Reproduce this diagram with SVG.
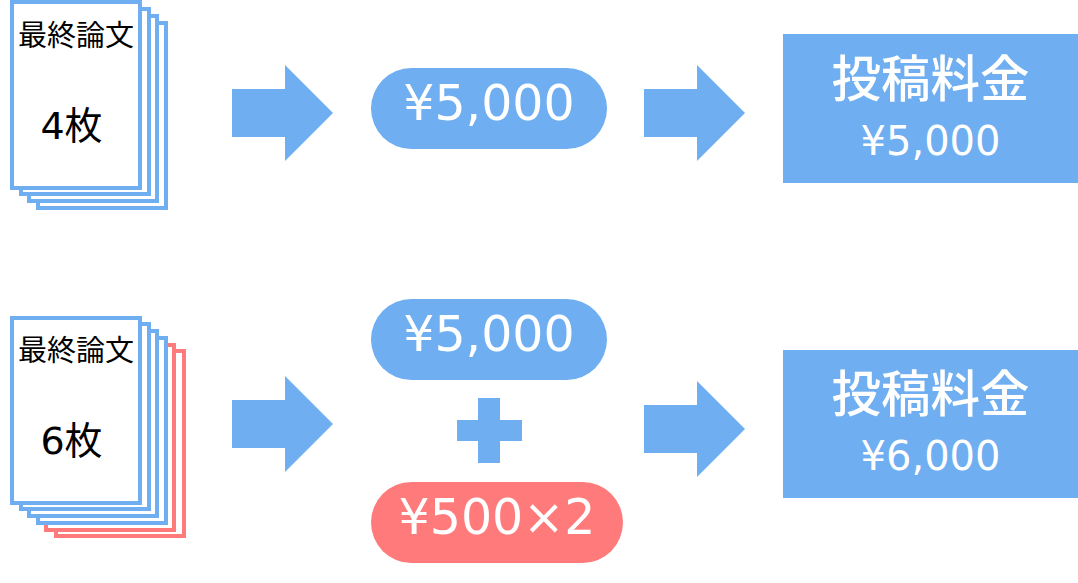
<svg xmlns="http://www.w3.org/2000/svg" width="1078" height="583" viewBox="0 0 1078 583">
<style>
text{font-family:"DejaVu Sans","Noto Sans CJK JP",sans-serif;text-anchor:middle}
.b{fill:#fff;stroke:#6faef0;stroke-width:4}
.r{fill:#fff;stroke:#ff7a7a;stroke-width:4}
.a{fill:#6faef0}
.p{fill:#ff7a7a}
.t1{font-size:29px;fill:#000}
.t2{font-size:38px;fill:#000}
.t3{font-size:49px;fill:#fff}
.t4{font-size:49.500px;fill:#fff;font-family:"Noto Sans CJK JP",sans-serif;font-weight:500}
.t5{font-size:40px;fill:#fff}
</style>
<rect width="1078" height="583" fill="#fff"/>
<g id="doc-4">
<rect class="b" x="38" y="23" width="128" height="185"/>
<rect class="b" x="29" y="16" width="128" height="185"/>
<rect class="b" x="21" y="9" width="128" height="185"/>
<rect class="b" x="12" y="2" width="128" height="186"/>
<text class="t1" x="76" y="46">最終論文</text>
<text class="t2" x="71.500" y="139">4枚</text>
</g>
<g id="doc-6">
<rect class="r" x="56" y="351" width="128" height="185"/>
<rect class="r" x="46" y="345" width="128" height="185"/>
<rect class="b" x="38" y="338" width="128" height="185"/>
<rect class="b" x="29" y="331" width="128" height="185"/>
<rect class="b" x="21" y="324" width="128" height="185"/>
<rect class="b" x="12" y="318" width="128" height="185"/>
<text class="t1" x="76" y="361">最終論文</text>
<text class="t2" x="71.500" y="454">6枚</text>
</g>
<g id="connectors">
<polygon class="a" points="232,89 285,89 285,65 333,113 285,161 285,137 232,137"/>
<polygon class="a" points="644,89 697,89 697,65 745,113 697,161 697,137 644,137"/>
<polygon class="a" points="232,400 285,400 285,376 333,424 285,472 285,448 232,448"/>
<polygon class="a" points="644,405 697,405 697,381 745,429 697,477 697,453 644,453"/>
</g>
<g id="pill-5000-a">
<rect class="a" x="371" y="68" width="236" height="81" rx="40.5"/>
<text class="t3" x="489" y="120">¥5,000</text>
</g>
<g id="pill-5000-b">
<rect class="a" x="371" y="299" width="236" height="81" rx="40.5"/>
<text class="t3" x="489" y="351">¥5,000</text>
</g>
<g id="plus">
<polygon class="a" points="478,398 500,398 500,420 522,420 522,441 500,441 500,463 478,463 478,441 457,441 457,420 478,420"/>
</g>
<g id="pill-500">
<rect class="p" x="371" y="482" width="252" height="81" rx="40.5"/>
<text class="t3" x="497" y="534">¥500×2</text>
</g>
<g id="fee-5000">
<rect class="a" x="783" y="34" width="295" height="149"/>
<text class="t4" x="930.500" y="97">投稿料金</text>
<text class="t5" x="930.500" y="155">¥5,000</text>
</g>
<g id="fee-6000">
<rect class="a" x="783" y="350" width="295" height="148"/>
<text class="t4" x="930.500" y="412">投稿料金</text>
<text class="t5" x="930.500" y="470">¥6,000</text>
</g>
</svg>
